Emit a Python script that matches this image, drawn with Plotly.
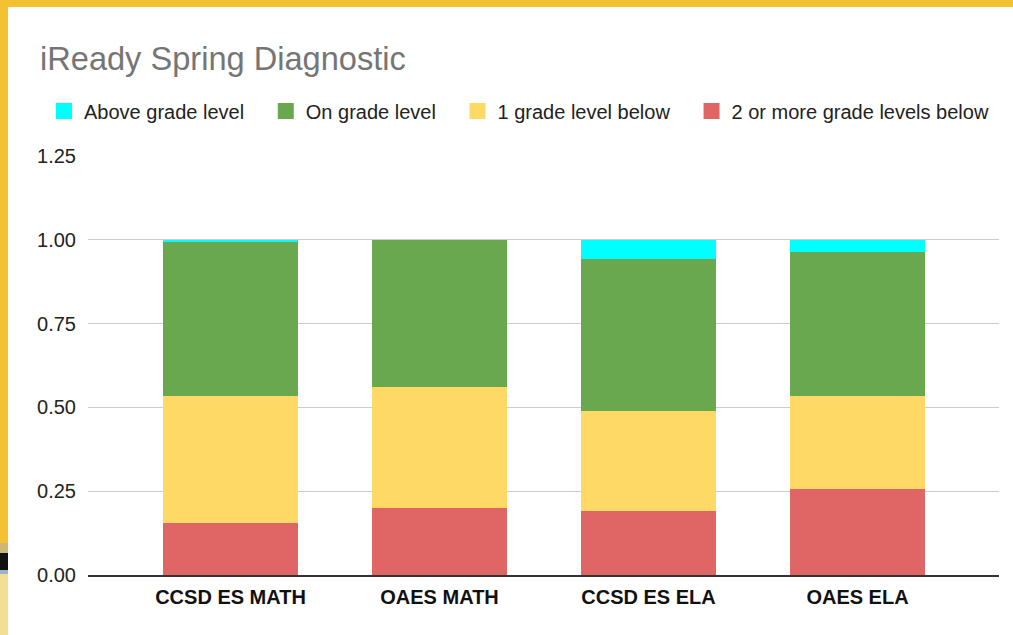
import plotly.graph_objects as go

categories = ["CCSD ES MATH", "OAES MATH", "CCSD ES ELA", "OAES ELA"]
series_names = ["Above grade level", "On grade level", "1 grade level below", "2 or more grade levels below"]
two_or_more_below = [0.156, 0.201, 0.191, 0.256]
one_below = [0.378, 0.359, 0.298, 0.278]
on_grade = [0.462, 0.440, 0.455, 0.429]
above_grade = [0.004, 0.000, 0.056, 0.037]
y_ticks = [0, 0.25, 0.5, 0.75, 1.0, 1.25]

colors = {
    "Above grade level": "#00FFFF",
    "On grade level": "#6AA84F",
    "1 grade level below": "#FFD966",
    "2 or more grade levels below": "#E06666",
}

W, H = 1013, 635
L, R, T, B = 88, 14, 156, 60

fig = go.Figure()
stack = [
    ("2 or more grade levels below", two_or_more_below),
    ("1 grade level below", one_below),
    ("On grade level", on_grade),
    ("Above grade level", above_grade),
]
for name, vals in stack:
    fig.add_trace(go.Bar(
        x=categories, y=vals, name=name, showlegend=False,
        marker=dict(color=colors[name], line=dict(width=0)),
        width=0.646,
    ))
# legend entries (trailing no-break spaces widen the gap between entries)
for i, name in enumerate(series_names):
    label = name + ("\u00a0" * 3 if i < len(series_names) - 1 else "")
    fig.add_trace(go.Scatter(
        x=[None], y=[None], mode="markers", name=label,
        marker=dict(symbol="square", size=16, color=colors[name]),
    ))

font = "Liberation Sans, Arial, sans-serif"

pw, ph = W - L - R, H - T - B
def px(x):
    return (x - L) / pw
def py(y):
    return (H - B - y) / ph

shapes = [
    dict(type="rect", xref="paper", yref="paper", x0=px(-2), x1=px(8), y0=py(-2), y1=py(H + 2),
         fillcolor="#F2C232", line=dict(width=0), layer="below"),
    dict(type="rect", xref="paper", yref="paper", x0=px(-2), x1=px(W + 2), y0=py(-2), y1=py(7),
         fillcolor="#F2C232", line=dict(width=0), layer="below"),
    dict(type="rect", xref="paper", yref="paper", x0=px(-2), x1=px(8), y0=py(543), y1=py(553),
         fillcolor="#CDB676", line=dict(width=0), layer="below"),
    dict(type="rect", xref="paper", yref="paper", x0=px(-2), x1=px(8), y0=py(553), y1=py(570),
         fillcolor="#111111", line=dict(width=0), layer="below"),
    dict(type="rect", xref="paper", yref="paper", x0=px(-2), x1=px(8), y0=py(570), y1=py(574),
         fillcolor="#9DB3C8", line=dict(width=0), layer="below"),
    dict(type="rect", xref="paper", yref="paper", x0=px(-2), x1=px(8), y0=py(574), y1=py(H + 2),
         fillcolor="#F3DE98", line=dict(width=0), layer="below"),
]

fig.update_layout(
    width=W, height=H,
    margin=dict(l=L, r=R, t=T, b=B, autoexpand=False),
    barmode="stack",
    barcornerradius=2,
    paper_bgcolor="white",
    plot_bgcolor="white",
    font=dict(family=font, color="#222222", size=20),
    title=dict(
        text="iReady Spring Diagnostic",
        font=dict(family=font, size=32.6, color="#757575"),
        xref="container", yref="container",
        x=40 / W, xanchor="left", y=1 - 59 / H, yanchor="middle",
    ),
    legend=dict(
        orientation="h",
        xref="paper", yref="paper",
        x=px(44), xanchor="left", y=py(111), yanchor="middle",
        font=dict(family=font, size=20, color="#222222"),
        bgcolor="rgba(0,0,0,0)",
        traceorder="normal",
    ),
    xaxis=dict(
        type="category",
        range=[-0.682, 3.677],
        showgrid=False,
        showline=True, linecolor="#333333", linewidth=1.5,
        ticks="", ticklabelstandoff=3,
        tickfont=dict(family=font, size=20, color="#111111", weight="bold"),
        fixedrange=True,
    ),
    yaxis=dict(
        range=[0, 1.25],
        tickvals=y_ticks,
        tickformat=".2f",
        showgrid=True, gridcolor="#CCCCCC", gridwidth=1.3,
        zeroline=False,
        ticks="", ticklabelstandoff=11,
        tickfont=dict(family=font, size=20, color="#222222"),
        fixedrange=True,
    ),
    shapes=shapes,
    showlegend=True,
)

fig.write_html(
    "out.html",
    config={"displayModeBar": False},
    post_script="document.body.style.margin='0px';document.body.style.overflow='hidden';",
)
